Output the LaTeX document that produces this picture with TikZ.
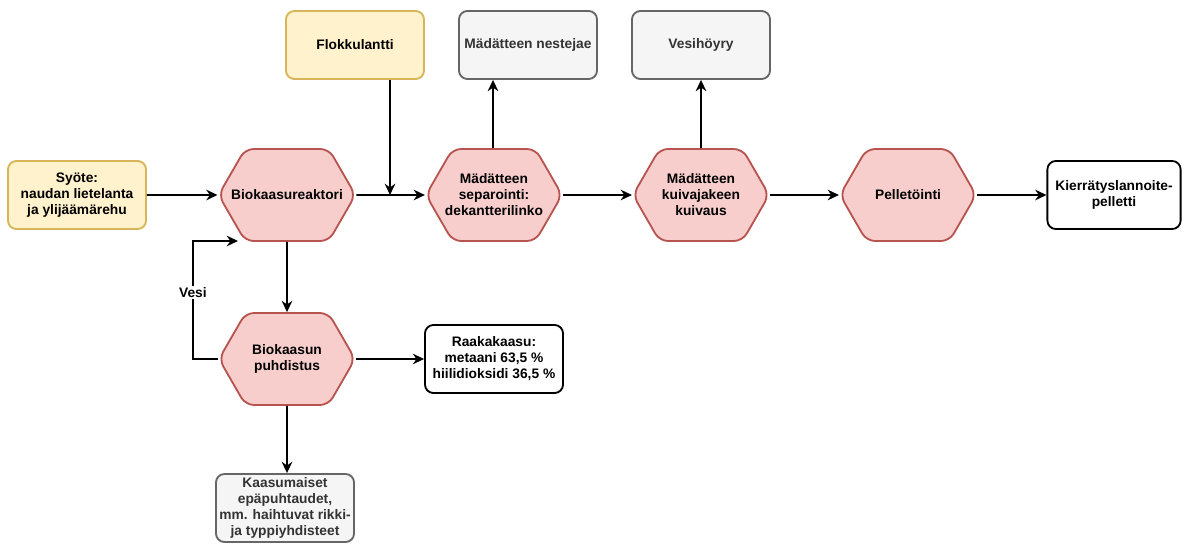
\documentclass[tikz,border=0pt]{standalone}
\usepackage{fontspec}
\setmainfont{Liberation Sans}
\usetikzlibrary{arrows.meta, shapes.symbols}
\definecolor{feedfill}{HTML}{FFF2CC}
\definecolor{feedline}{HTML}{D6B656}
\definecolor{procfill}{HTML}{F8CECC}
\definecolor{procline}{HTML}{B85450}
\definecolor{outfill}{HTML}{F5F5F5}
\definecolor{outline}{HTML}{666666}
\definecolor{outtext}{HTML}{333333}

\tikzset{
  process/.style={signal, signal to=west and east, signal pointer angle=120,
    draw=procline, fill=procfill, line width=1.3pt, rounded corners=6pt,
    minimum width=3.4cm, minimum height=2.3cm, align=center,
    inner xsep=-10pt, inner ysep=1pt},
  feed/.style={draw=feedline, fill=feedfill, line width=1.3pt, rounded corners=6pt,
    minimum width=3.45cm, minimum height=1.7cm, align=center},
  waste/.style={draw=outline, fill=outfill, text=outtext, line width=1.3pt,
    rounded corners=6pt, minimum width=3.45cm, minimum height=1.7cm, align=center, inner sep=1pt},
  product/.style={draw=black, fill=white, line width=1.3pt, rounded corners=6pt,
    minimum width=3.45cm, minimum height=1.7cm, align=center},
  flow/.style={->, line width=1.3pt},
}

\begin{document}
\begin{tikzpicture}[x=0.025cm, y=-0.025cm, >={Stealth[length=8pt,width=7.5pt]},
    font=\fontsize{9.8}{11.4}\selectfont\bfseries]
  \useasboundingbox (0,0) rectangle (1182,545);
  % syote ja reaktori
  \node[feed] (syote) at (77,195) {Syöte:\\naudan lietelanta\\ja ylijäämärehu};
  \node[process] (reaktori) at (287,195) {Biokaasureaktori};
  \node[feed] (flokk) at (355,45) {Flokkulantti};
  % jalkikasittely
  \node[process] (separ) at (494,195) {Mädätteen\\separointi:\\dekantterilinko};
  \node[waste] (neste) at (528,45) {Mädätteen nestejae};
  \node[process] (kuivaus) at (701,195) {Mädätteen\\kuivajakeen\\kuivaus};
  \node[waste] (hoyry) at (701,45) {Vesihöyry};
  \node[process] (pelle) at (908,195) {Pelletöinti};
  \node[product, minimum width=3.33cm] (pelletti) at (1114,195) {Kierrätyslannoite-\\pelletti};
  % kaasu
  \node[process] (puhd) at (287,359) {Biokaasun\\puhdistus};
  \node[product] (raaka) at (494,359) {Raakakaasu:\\metaani 63,5 \%\\hiilidioksidi 36,5 \%};
  \node[waste] (epap) at (285,508) {Kaasumaiset\\epäpuhtaudet,\\mm. haihtuvat rikki-\\ja typpiyhdisteet};

  \coordinate (liitos) at (390,195);
  \coordinate (paluu) at (238,241);

  \draw[flow] (syote) -- (reaktori);
  \draw[flow] (reaktori) -- (separ);
  \draw[flow] (flokk.south -| liitos) -- (liitos);
  \draw[flow] (separ) -- (kuivaus);
  \draw[flow] (kuivaus) -- (pelle);
  \draw[flow] (pelle) -- (pelletti);
  \draw[flow] (separ.north -| 493,0) -- (neste.south -| 493,0);
  \draw[flow] (kuivaus) -- (hoyry);
  \draw[flow] (reaktori) -- (puhd);
  \draw[flow] (puhd) -- (raaka);
  \draw[flow] (puhd) -- (epap.north -| puhd);
  \draw[flow] (puhd.west) -- ++(-25,0) |- (paluu)
    node[pos=0.28, fill=white, inner sep=1pt] {Vesi};
\end{tikzpicture}
\end{document}
